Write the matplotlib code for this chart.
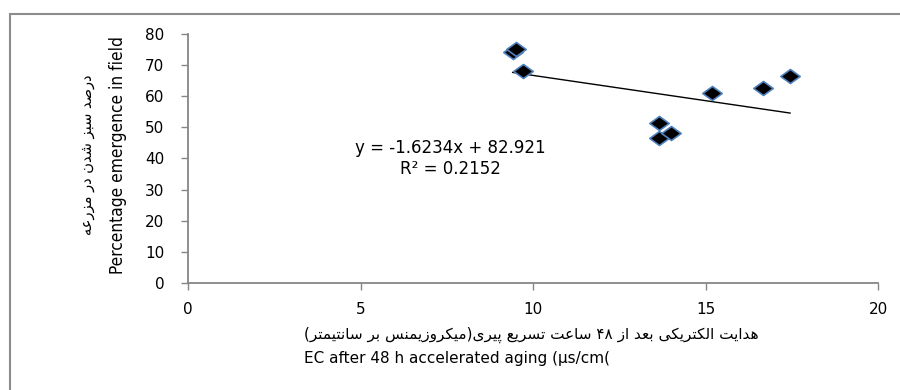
import re
import matplotlib
matplotlib.use("Agg")
import matplotlib.pyplot as plt
from matplotlib.patches import Rectangle
from matplotlib.path import Path

# data
ec_48h = [9.41, 9.51, 9.70, 13.65, 13.65, 14.00, 15.18, 16.66, 17.45]
emergence = [74.1, 75.2, 68.2, 51.5, 46.5, 48.1, 61.1, 62.6, 66.5]
trend_slope = -1.6234
trend_intercept = 82.921
r_squared = 0.2152
x_ticks = [0, 5, 10, 15, 20]
y_ticks = [0, 10, 20, 30, 40, 50, 60, 70, 80]

ylabel_fa = "درصد سبز شدن در مزرعه"
ylabel_en = "Percentage emergence in field"
xlabel_fa = "هدایت الکتریکی بعد از ۴۸ ساعت تسریع پیری(میکروزیمنس بر سانتیمتر)"
xlabel_en = "EC after 48 h accelerated aging (µs/cm("

# presentation forms: isolated, final, initial, medial (None = right-joining only)
FORMS = {
    "ا": ("\uFE8D", "\uFE8E", None, None),
    "ب": ("\uFE8F", "\uFE90", "\uFE91", "\uFE92"),
    "ت": ("\uFE95", "\uFE96", "\uFE97", "\uFE98"),
    "د": ("\uFEA9", "\uFEAA", None, None),
    "ر": ("\uFEAD", "\uFEAE", None, None),
    "ز": ("\uFEAF", "\uFEB0", None, None),
    "س": ("\uFEB1", "\uFEB2", "\uFEB3", "\uFEB4"),
    "ش": ("\uFEB5", "\uFEB6", "\uFEB7", "\uFEB8"),
    "ص": ("\uFEB9", "\uFEBA", "\uFEBB", "\uFEBC"),
    "ع": ("\uFEC9", "\uFECA", "\uFECB", "\uFECC"),
    "ل": ("\uFEDD", "\uFEDE", "\uFEDF", "\uFEE0"),
    "م": ("\uFEE1", "\uFEE2", "\uFEE3", "\uFEE4"),
    "ن": ("\uFEE5", "\uFEE6", "\uFEE7", "\uFEE8"),
    "ه": ("\uFEE9", "\uFEEA", "\uFEEB", "\uFEEC"),
    "و": ("\uFEED", "\uFEEE", None, None),
    "پ": ("\uFB56", "\uFB57", "\uFB58", "\uFB59"),
    "ک": ("\uFB8E", "\uFB8F", "\uFB90", "\uFB91"),
    "ی": ("\uFBFC", "\uFBFD", "\uFBFE", "\uFBFF"),
}


def rtl(text):
    """join the letters and put them in visual (left to right) order"""
    out = []
    for i, ch in enumerate(text):
        if ch not in FORMS:
            out.append(ch)
            continue
        prev = text[i - 1] if i > 0 else ""
        nxt = text[i + 1] if i + 1 < len(text) else ""
        iso, fin, ini, med = FORMS[ch]
        join_prev = prev in FORMS and FORMS[prev][2] is not None
        join_next = ini is not None and nxt in FORMS
        if join_prev and join_next:
            out.append(med)
        elif join_prev:
            out.append(fin)
        elif join_next:
            out.append(ini)
        else:
            out.append(iso)
    s = "".join(out)[::-1]
    s = re.sub(r"[0-9\u06F0-\u06F9]+", lambda m: m.group()[::-1], s)
    return s.translate(str.maketrans("()", ")("))


diamond = Path([(-1, 0), (0, 0.72), (1, 0), (0, -0.72), (-1, 0)],
               [Path.MOVETO, Path.LINETO, Path.LINETO, Path.LINETO, Path.CLOSEPOLY])

fig = plt.figure(figsize=(9, 3.9), dpi=100)
fig.add_artist(Rectangle((0.0115, -0.1), 1.2, 1.1 - 14 / 390, transform=fig.transFigure,
                         fill=False, edgecolor="#8c8c8c", linewidth=1.5))
ax = fig.add_axes([0.2089, 0.2744, 0.7667, 0.6385])

ax.plot(ec_48h, emergence, linestyle="none", marker=diamond, markersize=14,
        markerfacecolor="black", markeredgecolor="#4f81bd", markeredgewidth=1.2, zorder=3)

x0, x1 = min(ec_48h), max(ec_48h)
ax.plot([x0, x1], [trend_slope * x0 + trend_intercept, trend_slope * x1 + trend_intercept],
        color="black", linewidth=1)

ax.text(7.6, 43.5, "y = %.4fx + %.3f" % (trend_slope, trend_intercept),
        ha="center", va="center", fontsize=12, family="DejaVu Sans")
ax.text(7.6, 36.5, "R² = %.4f" % r_squared,
        ha="center", va="center", fontsize=12, family="DejaVu Sans")

ax.set_xlim(0, 20)
ax.set_ylim(0, 80)
ax.set_xticks(x_ticks)
ax.set_yticks(y_ticks)
for side in ("top", "right"):
    ax.spines[side].set_visible(False)
for side in ("left", "bottom"):
    ax.spines[side].set_color("#868686")
    ax.spines[side].set_linewidth(1.3)
ax.tick_params(direction="out", length=5, width=1, color="#868686",
               labelsize=11, pad=12)
ax.tick_params(axis="x", pad=9)

fig.text(0.097, 0.603, rtl(ylabel_fa), rotation=90, ha="center", va="center",
         fontsize=10.5, family="DejaVu Sans")
fig.text(0.131, 0.603, ylabel_en, rotation=90, ha="center", va="center",
         fontsize=12.4, family=["Liberation Sans Narrow", "DejaVu Sans Condensed", "DejaVu Sans"],
         stretch="condensed")
fig.text(0.338, 0.141, rtl(xlabel_fa), ha="left", va="center",
         fontsize=11, family="DejaVu Sans")
fig.text(0.338, 0.082, xlabel_en, ha="left", va="center",
         fontsize=11, family="DejaVu Sans")

fig.savefig("out.png", dpi=100)
